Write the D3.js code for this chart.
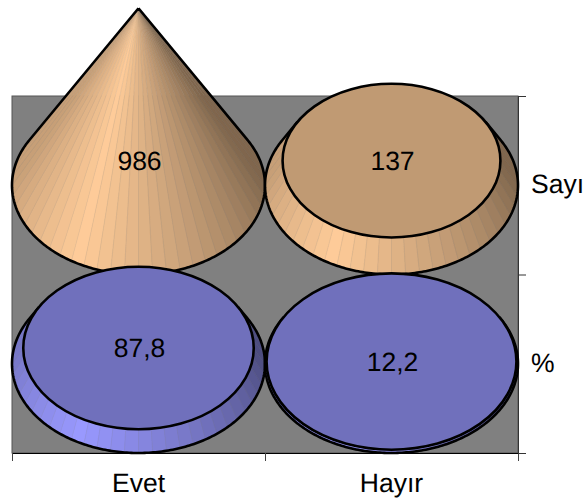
<!DOCTYPE html>
<html lang="en">
<head>
  <meta charset="UTF-8">
  <title>Evet / Hayır</title>
  <script src="https://d3js.org/d3.v7.min.js"></script>
  <style>
    body { margin: 0; background: #fff; }
    svg { display: block; }
    text { font-family: "Liberation Sans", Arial, sans-serif; font-size: 26.5px; fill: #000; text-rendering: geometricPrecision; }
  </style>
</head>
<body>
  <div id="chart"></div>
  <script>
    const categories = ["Evet", "Hayır"];
    const rows = ["Sayı", "%"];
    const sayiValues = [986, 137];
    const yuzdeValues = [87.8, 12.2];
    const valueLabels = [["986", "137"], ["87,8", "12,2"]];
    const axisMax = 986;

    const width = 583, height = 500;
    const svg = d3.select("#chart").append("svg")
      .attr("width", width)
      .attr("height", height);

    const x = d3.scaleBand().domain(categories).range([12, 518]);
    const y = d3.scaleBand().domain(rows).range([96, 453]);
    // cone height for a value, the full cone goes up to axisMax
    const h = d3.scaleLinear().domain([0, axisMax]).range([0, 177]);

    // light falls in from front left, angle 0 is the front of the shape
    const shade = d3.scaleLinear()
      .domain([-90, -28, 0, 90])
      .range([0.78, 1, 0.885, 0.5]);

    const series = [
      { row: "Sayı", values: sayiValues, base: [255, 204, 153], cap: "#c09a73", labels: valueLabels[0] },
      { row: "%", values: yuzdeValues, base: [153, 153, 255], cap: "#7070bc", labels: valueLabels[1] }
    ];

    svg.append("rect")
      .attr("x", 12).attr("y", 96)
      .attr("width", 506).attr("height", 357)
      .attr("fill", "#808080")
      .attr("stroke", "#555")
      .attr("stroke-width", 1);

    // axes
    const bottomAxis = d3.axisBottom(d3.scaleLinear().domain([0, 2]).range([12, 518]))
      .ticks(2).tickFormat("").tickSize(8).tickSizeOuter(8);
    svg.append("g").attr("transform", "translate(0,453)").call(bottomAxis)
      .selectAll("line,path").attr("stroke", "#444");
    svg.select("g .domain").attr("stroke", "#000");

    const rightAxis = d3.axisRight(d3.scaleLinear().domain([0, 2]).range([453, 96]))
      .ticks(2).tickFormat("").tickSize(8).tickSizeOuter(8);
    svg.append("g").attr("transform", "translate(518,0)").call(rightAxis)
      .selectAll("line,path").attr("stroke", "#333");

    const rad = d => d * Math.PI / 180;

    function drawShape(g, cx, cy, value, s) {
      const rx = x.bandwidth() / 2, ry = y.bandwidth() / 2;
      const H = h(axisMax), hv = h(value);
      const k = 1 - hv / H;
      const apexY = cy - H;
      const spread = Math.asin(ry / H) * 180 / Math.PI;

      const bottomPt = a => [cx + rx * Math.sin(rad(a)), cy + ry * Math.cos(rad(a))];
      const topPt = a => {
        const p = bottomPt(a);
        return [cx + (p[0] - cx) * k, apexY + (p[1] - apexY) * k];
      };

      // side faces, left silhouette to right silhouette through the front
      const lim = 90 + spread;
      const step = 6.4;
      const angles = d3.range(-Math.floor(lim / step), Math.floor(lim / step) + 1).map(i => i * step);
      const stops = [-lim, ...angles, lim];
      const faces = d3.pairs(stops);
      const color = a => {
        const c = shade(Math.max(-90, Math.min(90, a)));
        return d3.rgb(s.base[0] * c, s.base[1] * c, s.base[2] * c).formatHex();
      };
      const line = d3.line();

      g.selectAll(".face").data(faces).join("path")
        .attr("class", "face")
        .attr("d", d => line([bottomPt(d[0]), bottomPt(d[1]), topPt(d[1]), topPt(d[0])]) + "Z")
        .attr("fill", d => color((d[0] + d[1]) / 2))
        .attr("stroke", d => color((d[0] + d[1]) / 2))
        .attr("stroke-width", 0.6);

      g.selectAll(".seam").data(angles).join("line")
        .attr("class", "seam")
        .attr("x1", a => bottomPt(a)[0]).attr("y1", a => bottomPt(a)[1])
        .attr("x2", a => topPt(a)[0]).attr("y2", a => topPt(a)[1])
        .attr("stroke", "#808080")
        .attr("stroke-opacity", 0.18)
        .attr("stroke-width", 0.7);

      // front rim and silhouette
      const rim = d3.range(-lim, lim + 0.5, 1).map(bottomPt);
      g.append("path")
        .attr("d", line([topPt(-lim), ...rim, topPt(lim)]))
        .attr("fill", "none")
        .attr("stroke", "#000")
        .attr("stroke-width", 2.6);

      if (k > 0) {
        g.append("ellipse")
          .attr("cx", cx).attr("cy", apexY + (cy - apexY) * k)
          .attr("rx", rx * k).attr("ry", ry * k)
          .attr("fill", s.cap)
          .attr("stroke", "#000")
          .attr("stroke-width", 2.6);
      }
    }

    series.forEach(s => {
      const cy = y(s.row) + y.bandwidth() / 2;
      categories.forEach((cat, i) => {
        const cx = x(cat) + x.bandwidth() / 2;
        drawShape(svg.append("g"), cx, cy, s.values[i], s);
      });
    });

    // value labels sit on the cap, the tall cone gets its label at the same height
    series.forEach(s => {
      const cy = y(s.row) + y.bandwidth() / 2;
      categories.forEach((cat, i) => {
        svg.append("text")
          .attr("x", x(cat) + x.bandwidth() / 2 + 1)
          .attr("y", cy - Math.min(h(s.values[i]), 24) + 9)
          .attr("text-anchor", "middle")
          .text(s.labels[i]);
      });
    });

    categories.forEach(cat => {
      svg.append("text")
        .attr("x", x(cat) + x.bandwidth() / 2)
        .attr("y", 492)
        .attr("text-anchor", "middle")
        .text(cat);
    });

    rows.forEach(r => {
      svg.append("text")
        .attr("x", 531)
        .attr("y", y(r) + y.bandwidth() / 2 + 8)
        .text(r);
    });
  </script>
</body>
</html>
